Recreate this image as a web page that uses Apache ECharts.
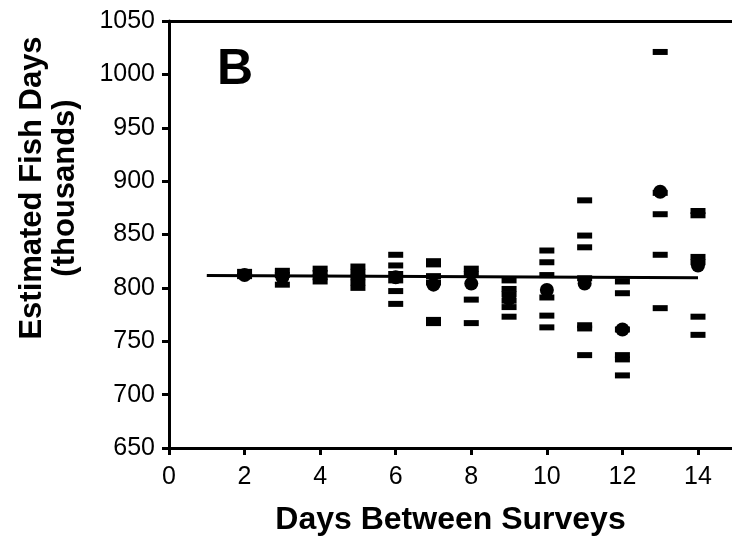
<!DOCTYPE html>
<html>
<head>
<meta charset="utf-8">
<title>Estimated Fish Days</title>
<script src="https://cdn.jsdelivr.net/npm/echarts@6.0.0/dist/echarts.min.js"></script>
<style>
  html, body { margin: 0; padding: 0; background: #fff; }
  #chart { width: 732px; height: 541px; }
</style>
</head>
<body>
<div id="chart"></div>
<script>
// days between surveys (one column per value)
var days = [2, 3, 4, 5, 6, 7, 8, 9, 10, 11, 12, 13, 14];
// individual estimates (thousands of fish days)
var estimates = [
  [815, 811],
  [816, 812, 803],
  [818, 814, 810, 806],
  [820, 815, 810, 805, 800],
  [831, 821, 813, 807, 797, 785],
  [825, 822, 811, 805, 770, 767],
  [818, 813, 789, 767],
  [807, 799, 794, 788, 782, 773],
  [835, 824, 812, 791, 774, 763],
  [882, 849, 838, 809, 765, 762, 737],
  [806, 795, 761, 737, 733, 718],
  [1021, 889, 869, 831, 781],
  [872, 868, 829, 824, 773, 756]
];
// mean estimate for each interval
var means = [812, 810, 812, 810, 810, 803, 804, 790, 798, 804, 761, 890, 821];
// fitted line end points
var fitDays = [1, 14];
var fitValues = [811.5, 809.5];

var xTicks = [0, 2, 4, 6, 8, 10, 12, 14];

var dashData = [];
days.forEach(function (d, i) {
  estimates[i].forEach(function (v) {
    dashData.push([d, v]);
  });
});
var meanData = days.map(function (d, i) { return [d, means[i]]; });
var fitData = fitDays.map(function (d, i) { return [d, fitValues[i]]; });

var chart = echarts.init(document.getElementById('chart'));
var font = 'Liberation Sans, Arial, sans-serif';

chart.setOption({
  animation: false,
  backgroundColor: '#fff',
  grid: {
    left: 169,
    right: 0,
    top: 21,
    bottom: 93
  },
  xAxis: [{
    type: 'value',
    min: 0,
    max: 14.9,
    interval: 2,
    name: 'Days Between Surveys',
    nameLocation: 'middle',
    nameGap: 56,
    nameTextStyle: {
      color: '#000',
      fontFamily: font,
      fontWeight: 'bold',
      fontSize: 32
    },
    axisLine: { lineStyle: { color: '#000', width: 3 } },
    axisTick: {
      customValues: xTicks,
      length: 7,
      lineStyle: { color: '#000', width: 3 }
    },
    axisLabel: {
      customValues: xTicks,
      margin: 17,
      color: '#000',
      fontFamily: font,
      fontSize: 25
    },
    splitLine: { show: false }
  }, {
    // top frame line
    type: 'value',
    position: 'top',
    min: 0,
    max: 14.9,
    axisLine: { lineStyle: { color: '#000', width: 3 } },
    axisTick: { show: false },
    axisLabel: { show: false },
    splitLine: { show: false }
  }],
  yAxis: {
    type: 'value',
    min: 650,
    max: 1050,
    interval: 50,
    axisLine: { show: true, lineStyle: { color: '#000', width: 3 } },
    axisTick: {
      show: true,
      length: 7,
      lineStyle: { color: '#000', width: 3 }
    },
    axisLabel: {
      margin: 14,
      color: '#000',
      fontFamily: font,
      fontSize: 25,
      formatter: function (v) { return String(v); }
    },
    splitLine: { show: false }
  },
  graphic: [{
    type: 'text',
    x: 32,
    y: 188,
    rotation: Math.PI / 2,
    style: {
      text: 'Estimated Fish Days',
      fill: '#000',
      font: 'bold 31px ' + font,
      align: 'center',
      verticalAlign: 'middle'
    }
  }, {
    type: 'text',
    x: 65,
    y: 188,
    rotation: Math.PI / 2,
    style: {
      text: '(thousands)',
      fill: '#000',
      font: 'bold 31px ' + font,
      align: 'center',
      verticalAlign: 'middle'
    }
  }, {
    type: 'text',
    x: 217,
    y: 45,
    style: {
      text: 'B',
      fill: '#000',
      font: 'bold 50px ' + font
    }
  }],
  series: [{
    name: 'fit',
    type: 'line',
    data: fitData,
    showSymbol: false,
    lineStyle: { color: '#000', width: 3 },
    z: 1
  }, {
    name: 'estimates',
    type: 'scatter',
    data: dashData,
    symbol: 'rect',
    symbolSize: [15, 6],
    itemStyle: { color: '#000', opacity: 1 },
    z: 2
  }, {
    name: 'means',
    type: 'scatter',
    data: meanData,
    symbol: 'circle',
    symbolSize: 14,
    itemStyle: { color: '#000', opacity: 1 },
    z: 3
  }]
});
</script>
</body>
</html>
